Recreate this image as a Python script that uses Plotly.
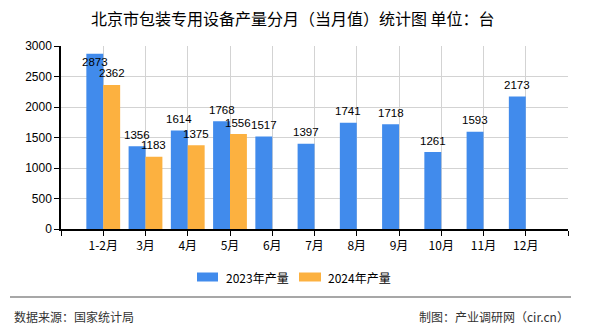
import plotly.graph_objects as go

# Monthly output (units), Beijing packaging-equipment production
months = ["1-2月", "3月", "4月", "5月", "6月", "7月", "8月", "9月", "10月", "11月", "12月"]
output_2023 = [2873, 1356, 1614, 1768, 1517, 1397, 1741, 1718, 1261, 1593, 2173]
output_2024 = [2362, 1183, 1375, 1556, None, None, None, None, None, None, None]
series_names = ["2023年产量", "2024年产量"]
y_ticks = [0, 500, 1000, 1500, 2000, 2500, 3000]

W, H = 590, 330
L, R, T, B = 61, 22, 46, 101
PW, PH = W - L - R, H - T - B

BLUE = "#418BEC"
ORANGE = "#FCB140"
LABEL_FONT = dict(family="Liberation Sans, Arial, sans-serif", size=11.5, color="#000")
CJK = "Noto Sans CJK SC, sans-serif"


def px_x(px):
    return (px - L) / PW


def px_y(py):
    return (H - B - py) / PH


idx = list(range(len(months)))

fig = go.Figure()
fig.add_trace(go.Bar(x=idx, y=output_2023, name=series_names[0],
                     marker=dict(color=BLUE, line=dict(width=0)), showlegend=False))
fig.add_trace(go.Bar(x=idx, y=output_2024, name=series_names[1],
                     marker=dict(color=ORANGE, line=dict(width=0)), showlegend=False))

# value labels above each bar (the tallest one sits just inside its top)
annotations = []
for series, dx in ((output_2023, -0.2), (output_2024, 0.2)):
    for i, v in enumerate(series):
        if v is None:
            continue
        top_clipped = v > 2800
        annotations.append(dict(
            x=i + dx, y=v, xref="x", yref="y", text=str(v), showarrow=False,
            yanchor="middle", yshift=-8 if top_clipped else 11.5,
            font=LABEL_FONT))

# title
annotations.append(dict(x=px_x(293), y=px_y(18), xref="paper", yref="paper",
                        text="北京市包装专用设备产量分月（当月值）统计图 单位：台",
                        showarrow=False, xanchor="center", yanchor="middle",
                        font=dict(family=CJK, size=16, color="#000")))

# legend drawn as swatches + labels
shapes = []
legend_items = [(197, 218, 224, BLUE, series_names[0]), (299, 321, 326, ORANGE, series_names[1])]
for x0, x1, tx, col, name in legend_items:
    shapes.append(dict(type="rect", xref="paper", yref="paper",
                       x0=px_x(x0), x1=px_x(x1), y0=px_y(281.5), y1=px_y(272.5),
                       fillcolor=col, line=dict(width=0)))
    annotations.append(dict(x=px_x(tx), y=px_y(277), xref="paper", yref="paper",
                            text=name, showarrow=False, xanchor="left", yanchor="middle",
                            font=dict(family=CJK, size=12, color="#000")))

# footer rule and source lines
shapes.append(dict(type="line", xref="paper", yref="paper",
                   x0=px_x(10), x1=px_x(571), y0=px_y(297), y1=px_y(297),
                   line=dict(color="#8a8a8a", width=1.5)))
annotations.append(dict(x=px_x(12), y=px_y(316), xref="paper", yref="paper",
                        text="数据来源：国家统计局", showarrow=False,
                        xanchor="left", yanchor="middle",
                        font=dict(family=CJK, size=12, color="#333")))
annotations.append(dict(x=px_x(571), y=px_y(316), xref="paper", yref="paper",
                        text="制图：产业调研网（cir.cn）", showarrow=False,
                        xanchor="right", yanchor="middle",
                        font=dict(family=CJK, size=12, color="#333")))

tick_vals = [-1] + idx + [len(months)]
tick_text = [""] + months + [""]

fig.update_layout(
    width=W, height=H,
    margin=dict(l=L, r=R, t=T, b=B, pad=0),
    paper_bgcolor="#fff", plot_bgcolor="#fff",
    barmode="group", bargap=0.2, bargroupgap=0,
    annotations=annotations, shapes=shapes,
    xaxis=dict(range=[-1, len(months)], tickmode="array", tickvals=tick_vals,
               ticktext=tick_text, showgrid=True, gridcolor="#d3d3d3", gridwidth=1,
               showline=True, linecolor="#000", linewidth=1.5,
               ticks="outside", ticklen=5, tickcolor="#000", zeroline=False,
               tickfont=dict(family=CJK, size=12, color="#000")),
    yaxis=dict(range=[0, 3000], tickmode="array", tickvals=y_ticks,
               showgrid=True, gridcolor="#d3d3d3", gridwidth=1,
               showline=True, linecolor="#000", linewidth=1.5,
               ticks="outside", ticklen=5, tickcolor="#000", zeroline=False,
               tickfont=dict(family="Liberation Sans, Arial, sans-serif", size=12, color="#000")),
)

fig.write_html("out.html")
